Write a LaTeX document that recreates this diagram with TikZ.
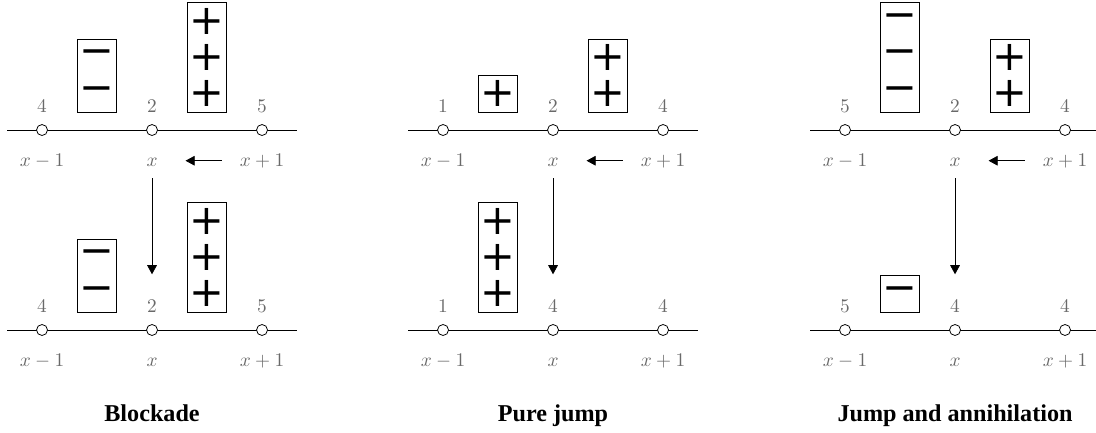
\documentclass[tikz,border=0pt]{standalone}
\usepackage{fontspec}
\usetikzlibrary{arrows.meta,fit}
\newfontfamily\signfont{DejaVu Sans}
\newfontfamily\capfont{Liberation Serif}
\definecolor{labelgray}{RGB}{105,105,105}

\tikzset{
  site/.style={circle,draw,fill=white,inner sep=0pt,minimum size=0.2cm},
  occnum/.style={text=labelgray,anchor=base,text height=6.5pt,text depth=1pt},
  sitelabel/.style={text=labelgray,anchor=base,text height=6.5pt,text depth=1pt},
  sign/.style={font=\signfont\fontsize{21.5}{21.5}\selectfont,inner sep=0pt,
    minimum width=0.613cm,minimum height=0.6cm},
  signbox/.style={draw,inner sep=0.03cm},
  move/.style={-{Triangle[length=4.7pt,width=5pt]}},
  caption/.style={font=\capfont\bfseries\fontsize{12.5}{15}\selectfont,anchor=base}
}

% #1 prefix, #2 height of the line, #3-#5 occupation numbers
\newcommand{\siterow}[5]{%
  \draw (-2.636,#2) -- (2.636,#2);
  \node[site] (#1l) at (-2,#2) {};
  \node[site] (#1c) at (0,#2) {};
  \node[site] (#1r) at (2,#2) {};
  \node[occnum] (#1nl) at (-2,#2+0.31) {$#3$};
  \node[occnum] (#1nc) at (0,#2+0.31) {$#4$};
  \node[occnum] (#1nr) at (2,#2+0.31) {$#5$};
  \node[sitelabel] (#1xl) at (-2,#2-0.655) {$x-1$};
  \node[sitelabel] (#1xc) at (0,#2-0.655) {$x$};
  \node[sitelabel] (#1xr) at (2,#2-0.655) {$x+1$};
}

% #1 name, #2 x, #3 height of the line, #4 sign, #5 how many
\newcommand{\chargestack}[5]{%
  \foreach \i in {1,...,#5}
    \node[sign] (#1\i) at (#2,{#3+0.657+(\i-1)*0.66}) {#4};
  \node[signbox,fit=(#11)(#1#5)] (#1) {};
}

\begin{document}
\begin{tikzpicture}
  \useasboundingbox (0,0) rectangle (19.927,7.855);

  % blockade
  \begin{scope}[xshift=2.764cm]
    \siterow{bt}{5.491}{4}{2}{5}
    \chargestack{btm}{-1}{5.491}{−}{2}
    \chargestack{btp}{1}{5.491}{+}{3}
    \siterow{bb}{1.855}{4}{2}{5}
    \chargestack{bbm}{-1}{1.855}{−}{2}
    \chargestack{bbp}{1}{1.855}{+}{3}
    \draw[move,shorten <=0.207cm,shorten >=0.385cm] (btxr.west) -- (btxc.east);
    \draw[move,shorten <=0.065cm,shorten >=0.35cm] (btxc.south) -- (bbnc.north);
    \node[caption] (bcap) at (0,0.187) {Blockade};
  \end{scope}

  % pure jump
  \begin{scope}[xshift=10.055cm]
    \siterow{pt}{5.491}{1}{2}{4}
    \chargestack{ptl}{-1}{5.491}{+}{1}
    \chargestack{ptr}{1}{5.491}{+}{2}
    \siterow{pb}{1.855}{1}{4}{4}
    \chargestack{pbl}{-1}{1.855}{+}{3}
    \draw[move,shorten <=0.207cm,shorten >=0.385cm] (ptxr.west) -- (ptxc.east);
    \draw[move,shorten <=0.065cm,shorten >=0.35cm] (ptxc.south) -- (pbnc.north);
    \node[caption] (pcap) at (0,0.187) {Pure jump};
  \end{scope}

  % jump and annihilation
  \begin{scope}[xshift=17.364cm]
    \siterow{jt}{5.491}{5}{2}{4}
    \chargestack{jtl}{-1}{5.491}{−}{3}
    \chargestack{jtr}{1}{5.491}{+}{2}
    \siterow{jb}{1.855}{5}{4}{4}
    \chargestack{jbl}{-1}{1.855}{−}{1}
    \draw[move,shorten <=0.207cm,shorten >=0.385cm] (jtxr.west) -- (jtxc.east);
    \draw[move,shorten <=0.065cm,shorten >=0.35cm] (jtxc.south) -- (jbnc.north);
    \node[caption] (jcap) at (0,0.187) {Jump and annihilation};
  \end{scope}
\end{tikzpicture}
\end{document}
